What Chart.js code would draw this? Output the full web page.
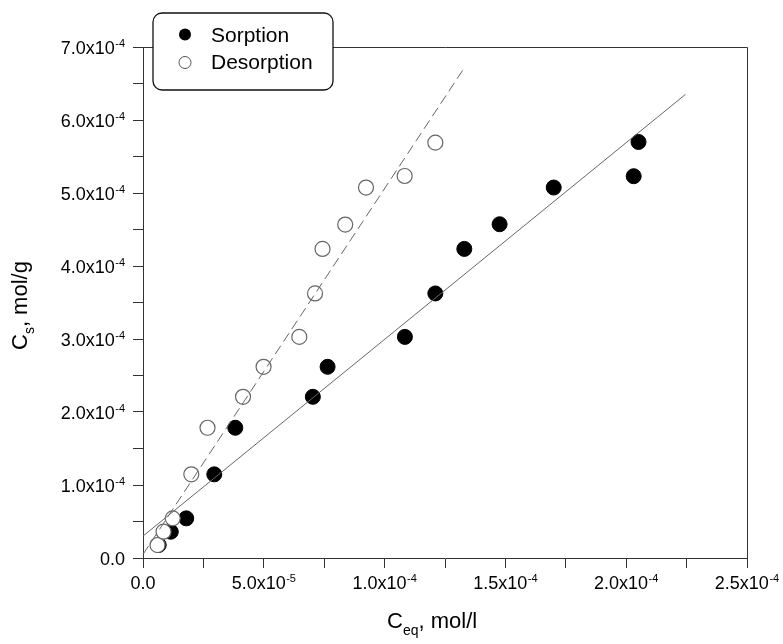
<!DOCTYPE html>
<html>
<head>
<meta charset="utf-8">
<script src="https://cdn.jsdelivr.net/npm/chart.js@4"></script>
<style>
  html, body { margin: 0; padding: 0; background: #fff; }
  #wrap { width: 783px; height: 644px; position: relative; }
</style>
</head>
<body>
<div id="wrap"><canvas id="chart"></canvas></div>
<script>
// values
const sorptionX = [6.5e-6, 1.15e-5, 1.79e-5, 2.95e-5, 3.82e-5, 7.03e-5, 7.64e-5, 1.084e-4, 1.21e-4, 1.33e-4, 1.476e-4, 1.70e-4, 2.031e-4, 2.051e-4];
const sorptionY = [1.78e-5, 3.6e-5, 5.43e-5, 1.146e-4, 1.784e-4, 2.208e-4, 2.619e-4, 3.029e-4, 3.624e-4, 4.234e-4, 4.572e-4, 5.075e-4, 5.23e-4, 5.699e-4];
const desorptionX = [6.0e-6, 8.5e-6, 1.23e-5, 2.0e-5, 2.67e-5, 4.14e-5, 4.99e-5, 6.47e-5, 7.12e-5, 7.43e-5, 8.37e-5, 9.23e-5, 1.083e-4, 1.21e-4];
const desorptionY = [1.78e-5, 3.6e-5, 5.43e-5, 1.146e-4, 1.784e-4, 2.208e-4, 2.619e-4, 3.029e-4, 3.624e-4, 4.234e-4, 4.568e-4, 5.075e-4, 5.233e-4, 5.69e-4];

// fitted lines (end points)
const sorptionFitX = [0, 2.245e-4];
const sorptionFitY = [3.0e-5, 6.35e-4];
const desorptionFitX = [0, 1.323e-4];
const desorptionFitY = [5.0e-6, 6.68e-4];

const xTicks = { min: 0, max: 2.5e-4, step: 2.5e-5, labelStep: 5e-5 };
const yTicks = { min: 0, max: 7e-4, step: 5e-5, labelStep: 1e-4 };
const seriesNames = ['Sorption', 'Desorption'];

const FONT = '"Liberation Sans", Arial, sans-serif';
const AXIS = '#333';

const toPoints = (xs, ys) => xs.map((x, i) => ({ x: x, y: ys[i] }));

function sciParts(v) {
  if (Math.abs(v) < 1e-12) return ['0.0', ''];
  const exp = Math.floor(Math.log10(v) + 1e-9);
  const mant = (v / Math.pow(10, exp)).toFixed(1);
  return [mant + 'x10', String(exp)];
}

// draws "7.0x10" with a raised exponent; x is the left edge
function drawSci(ctx, parts, x, base) {
  ctx.font = '18px ' + FONT;
  ctx.fillText(parts[0], x, base);
  const w = ctx.measureText(parts[0]).width;
  if (parts[1]) {
    ctx.font = '11px ' + FONT;
    ctx.fillText(parts[1], w + x + 0.5, base - 6.5);
  }
}

function sciWidth(ctx, parts) {
  ctx.font = '18px ' + FONT;
  let w = ctx.measureText(parts[0]).width;
  if (parts[1]) {
    ctx.font = '11px ' + FONT;
    w += ctx.measureText(parts[1]).width + 0.5;
  }
  return w;
}

const isLabelled = (v, step) => Math.abs(v / step - Math.round(v / step)) < 1e-6;

const decorPlugin = {
  id: 'decor',
  afterDraw(chart) {
    const ctx = chart.ctx;
    const area = chart.chartArea;
    const xs = chart.scales.x;
    const ys = chart.scales.y;
    ctx.save();

    // frame (top and right)
    ctx.strokeStyle = AXIS;
    ctx.lineWidth = 1;
    ctx.beginPath();
    ctx.moveTo(Math.round(area.left) + 0.5, Math.round(area.top) + 0.5);
    ctx.lineTo(Math.round(area.right) + 0.5, Math.round(area.top) + 0.5);
    ctx.lineTo(Math.round(area.right) + 0.5, Math.round(area.bottom) + 0.5);
    ctx.stroke();

    ctx.fillStyle = '#000';
    ctx.textBaseline = 'alphabetic';
    ctx.textAlign = 'left';

    // y tick labels
    ys.ticks.forEach(t => {
      if (!isLabelled(t.value, yTicks.labelStep)) return;
      const parts = sciParts(t.value);
      const py = ys.getPixelForValue(t.value);
      const w = sciWidth(ctx, parts);
      drawSci(ctx, parts, 125 - w, py + 6.5);
    });

    // x tick labels
    xs.ticks.forEach(t => {
      if (!isLabelled(t.value, xTicks.labelStep)) return;
      const parts = sciParts(t.value);
      const px = xs.getPixelForValue(t.value);
      const w = sciWidth(ctx, parts);
      drawSci(ctx, parts, px - w / 2, area.bottom + 30.5);
    });

    // x title
    let x = 387;
    const xb = 628;
    ctx.font = '22px ' + FONT;
    ctx.fillText('C', x, xb);
    x += ctx.measureText('C').width;
    ctx.font = '14px ' + FONT;
    ctx.fillText('eq', x, xb + 7);
    x += ctx.measureText('eq').width;
    ctx.font = '22px ' + FONT;
    ctx.fillText(', mol/l', x, xb);

    // y title
    ctx.save();
    ctx.translate(27, 350);
    ctx.rotate(-Math.PI / 2);
    let y = 0;
    ctx.font = '22px ' + FONT;
    ctx.fillText('C', y, 0);
    y += ctx.measureText('C').width;
    ctx.font = '14px ' + FONT;
    ctx.fillText('s', y, 7);
    y += ctx.measureText('s').width;
    ctx.font = '22px ' + FONT;
    ctx.fillText(', mol/g', y, 0);
    ctx.restore();

    // legend box
    const bx = 153, by = 13, bw = 180, bh = 77, r = 9;
    ctx.beginPath();
    ctx.moveTo(bx + r, by);
    ctx.arcTo(bx + bw, by, bx + bw, by + bh, r);
    ctx.arcTo(bx + bw, by + bh, bx, by + bh, r);
    ctx.arcTo(bx, by + bh, bx, by, r);
    ctx.arcTo(bx, by, bx + bw, by, r);
    ctx.closePath();
    ctx.fillStyle = '#fff';
    ctx.fill();
    ctx.strokeStyle = '#111';
    ctx.lineWidth = 1.3;
    ctx.stroke();

    ctx.beginPath();
    ctx.arc(185, 34.5, 6, 0, Math.PI * 2);
    ctx.fillStyle = '#000';
    ctx.fill();
    ctx.beginPath();
    ctx.arc(185, 62.5, 6, 0, Math.PI * 2);
    ctx.strokeStyle = '#555';
    ctx.lineWidth = 1;
    ctx.stroke();

    ctx.fillStyle = '#000';
    ctx.font = '21px ' + FONT;
    ctx.fillText(seriesNames[0], 211, 42);
    ctx.fillText(seriesNames[1], 211, 69);

    ctx.restore();
  }
};

const ctx = document.getElementById('chart').getContext('2d');
new Chart(ctx, {
  type: 'scatter',
  data: {
    datasets: [
      {
        label: 'Sorption fit',
        data: toPoints(sorptionFitX, sorptionFitY),
        showLine: true,
        borderColor: '#666',
        borderWidth: 1,
        pointRadius: 0,
        fill: false
      },
      {
        label: 'Desorption fit',
        data: toPoints(desorptionFitX, desorptionFitY),
        showLine: true,
        borderColor: '#666',
        borderWidth: 1,
        borderDash: [10, 5],
        pointRadius: 0,
        fill: false
      },
      {
        label: seriesNames[1],
        data: toPoints(desorptionX, desorptionY),
        pointRadius: 7.5,
        pointBackgroundColor: '#fff',
        pointBorderColor: '#666',
        pointBorderWidth: 1.2
      },
      {
        label: seriesNames[0],
        data: toPoints(sorptionX, sorptionY),
        pointRadius: 7.5,
        pointBackgroundColor: '#000',
        pointBorderColor: '#000',
        pointBorderWidth: 1
      }
    ]
  },
  options: {
    responsive: true,
    maintainAspectRatio: false,
    animation: false,
    devicePixelRatio: 1,
    layout: { padding: { left: 0, top: 47, right: 36, bottom: 0 } },
    plugins: {
      legend: { display: false },
      tooltip: { enabled: false }
    },
    scales: {
      x: {
        type: 'linear',
        min: xTicks.min,
        max: xTicks.max,
        ticks: { stepSize: xTicks.step, display: false },
        grid: { drawOnChartArea: false, drawTicks: true, tickLength: 10, color: AXIS, lineWidth: 1 },
        border: { display: true, color: AXIS, width: 1 },
        afterFit: (scale) => { scale.height = 86; }
      },
      y: {
        type: 'linear',
        min: yTicks.min,
        max: yTicks.max,
        ticks: { stepSize: yTicks.step, display: false },
        grid: { drawOnChartArea: false, drawTicks: true, tickLength: 10, color: AXIS, lineWidth: 1 },
        border: { display: true, color: AXIS, width: 1 },
        afterFit: (scale) => { scale.width = 143; }
      }
    }
  },
  plugins: [decorPlugin]
});
</script>
</body>
</html>
